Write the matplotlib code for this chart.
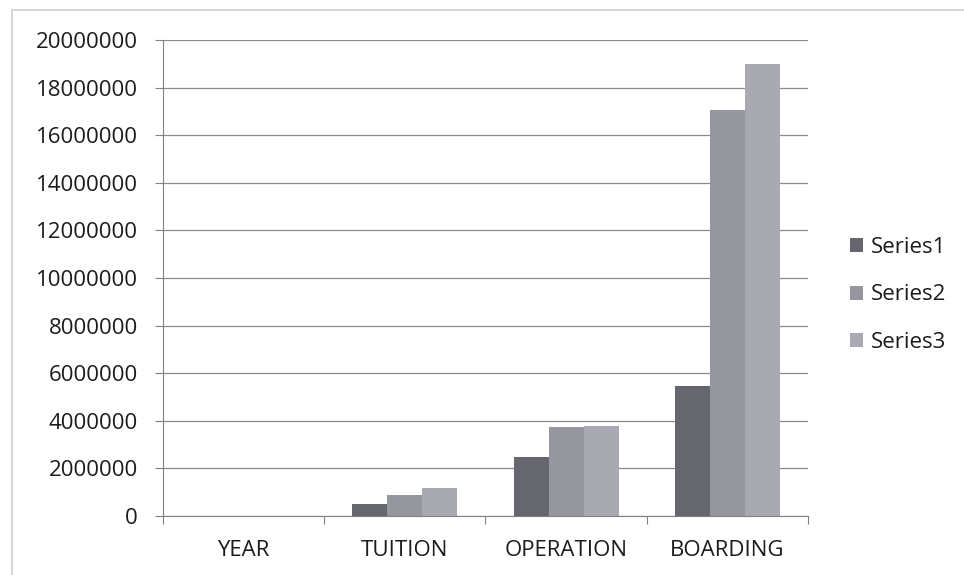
import numpy as np
import matplotlib.pyplot as plt
from matplotlib.patches import Rectangle, Patch

categories = ["YEAR", "TUITION", "OPERATION", "BOARDING"]
series1 = [0, 500000, 2480000, 5480000]
series2 = [0, 880000, 3750000, 17060000]
series3 = [0, 1180000, 3800000, 19000000]
series_names = ["Series1", "Series2", "Series3"]
colors = ["#66666e", "#96969e", "#a9a9b1"]

plt.rcParams['font.family'] = ['Open Sans', 'DejaVu Sans']
fs = 16

fig = plt.figure(figsize=(9.64, 5.75), dpi=100)
ax = fig.add_axes([163 / 964, 1 - 516 / 575, (808 - 163) / 964, (516 - 40) / 575])

# outer chart frame
fig.patches.append(Rectangle((12 / 964, -0.1), 1.2, 1.1 - 10 / 575, transform=fig.transFigure,
                             fill=False, edgecolor="#d0d0d0", linewidth=1.2))

x = np.arange(len(categories))
w = 0.217
for i, vals in enumerate([series1, series2, series3]):
    ax.bar(x + (i - 1) * w, vals, width=w, color=colors[i], zorder=2)

ax.set_xlim(-0.5, len(categories) - 0.5)
ax.set_ylim(0, 20000000)
ax.set_yticks(np.arange(0, 20000001, 2000000))
ax.set_yticklabels([str(v) for v in range(0, 20000001, 2000000)])
ax.yaxis.grid(True, color="#8a8a8a", linewidth=0.9, zorder=0)
ax.set_axisbelow(True)

ax.set_xticks(np.arange(-0.5, len(categories)), labels=[])
ax.set_xticks(x, minor=True)
ax.set_xticklabels(categories, minor=True)
ax.tick_params(axis="x", which="major", length=6, color="#808080", direction="out")
ax.tick_params(axis="x", which="minor", length=0, pad=17, labelsize=fs, labelcolor="#1c1c1c")
ax.tick_params(axis="y", length=6, color="#808080", pad=12, labelsize=fs, labelcolor="#1c1c1c")

for side in ["top", "right"]:
    ax.spines[side].set_visible(False)
ax.spines["left"].set_color("#808080")
ax.spines["bottom"].set_color("#808080")

handles = [Patch(facecolor=c, label=n) for c, n in zip(colors, series_names)]
fig.legend(handles=handles, loc="center left", bbox_to_anchor=(830 / 964, 1 - 295 / 575),
           frameon=False, fontsize=fs, handlelength=0.6, handleheight=0.6,
           handletextpad=0.35, labelspacing=1.2, labelcolor="#1c1c1c")

fig.savefig("out.png", dpi=100)
